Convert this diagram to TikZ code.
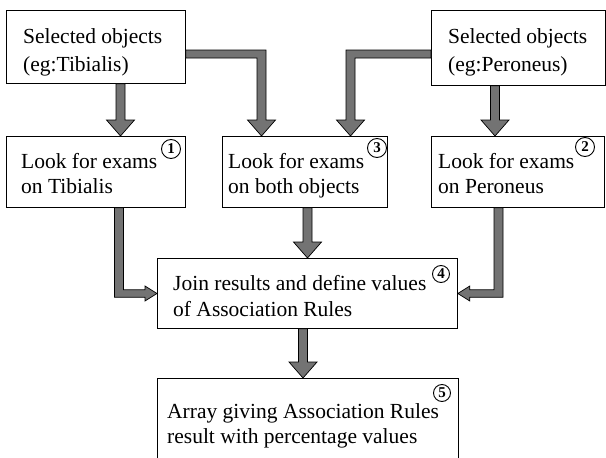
\documentclass[tikz,border=0pt]{standalone}
\usepackage{fontspec}
\setmainfont{Liberation Serif}
\usetikzlibrary{calc}
\tikzset{
  box/.style={draw, line width=0.8pt, inner sep=0pt, anchor=north west},
  txt/.style={inner sep=0pt, anchor=base west, font=\fontsize{21.5}{26}\selectfont},
  num/.style={draw, circle, line width=0.9pt, inner sep=0pt, minimum size=19pt, font=\fontsize{15}{15}\selectfont\bfseries},
  fat/.style={draw=black, line width=0.7pt, fill=black!55, line join=miter}
}
\newcommand\twoline[3]{\vtop{\baselineskip=#1pt\hbox{#2}\hbox{#3}}}
% vertical fat arrow
\newcommand\vfat[2]{\path[fat] let \p1=#1, \p2=#2 in
  (\x1-4.5pt,\y1) -- (\x1-4.5pt,\y2+16pt) -- (\x1-14pt,\y2+16pt) -- (\x1,\y2) --
  (\x1+14pt,\y2+16pt) -- (\x1+4.5pt,\y2+16pt) -- (\x1+4.5pt,\y1) -- cycle;}
% right then down
\newcommand\rdfat[2]{\path[fat] let \p1=#1, \p2=#2 in
  (\x1,\y1+4pt) -- (\x2+4.5pt,\y1+4pt) -- (\x2+4.5pt,\y2+16pt) -- (\x2+14pt,\y2+16pt) --
  (\x2,\y2) -- (\x2-14pt,\y2+16pt) -- (\x2-4.5pt,\y2+16pt) -- (\x2-4.5pt,\y1-4pt) --
  (\x1,\y1-4pt) -- cycle;}
% left then down
\newcommand\ldfat[2]{\path[fat] let \p1=#1, \p2=#2 in
  (\x1,\y1+4pt) -- (\x2-4.5pt,\y1+4pt) -- (\x2-4.5pt,\y2+16pt) -- (\x2-14pt,\y2+16pt) --
  (\x2,\y2) -- (\x2+14pt,\y2+16pt) -- (\x2+4.5pt,\y2+16pt) -- (\x2+4.5pt,\y1-4pt) --
  (\x1,\y1-4pt) -- cycle;}
% down then right
\newcommand\drfat[2]{\path[fat] let \p1=#1, \p2=#2 in
  (\x1-4.5pt,\y1) -- (\x1-4.5pt,\y2-3.75pt) -- (\x2-12pt,\y2-3.75pt) -- (\x2-12pt,\y2-7.5pt) --
  (\x2,\y2) -- (\x2-12pt,\y2+7.5pt) -- (\x2-12pt,\y2+3.75pt) -- (\x1+4.5pt,\y2+3.75pt) --
  (\x1+4.5pt,\y1) -- cycle;}
% down then left
\newcommand\dlfat[2]{\path[fat] let \p1=#1, \p2=#2 in
  (\x1+4.5pt,\y1) -- (\x1+4.5pt,\y2-3.75pt) -- (\x2+12pt,\y2-3.75pt) -- (\x2+12pt,\y2-7.5pt) --
  (\x2,\y2) -- (\x2+12pt,\y2+7.5pt) -- (\x2+12pt,\y2+3.75pt) -- (\x1-4.5pt,\y2+3.75pt) --
  (\x1-4.5pt,\y1) -- cycle;}
\begin{document}
\begin{tikzpicture}[x=1pt,y=-1pt]
\useasboundingbox (0,0) rectangle (606,458);
% boxes
\node[box, minimum width=179pt, minimum height=73pt] (A) at (6,10) {};
\node[box, minimum width=174pt, minimum height=75pt] (B) at (431,10) {};
\node[box, minimum width=179pt, minimum height=71pt] (B1) at (6,136) {};
\node[box, minimum width=165pt, minimum height=71pt] (B3) at (222,136) {};
\node[box, minimum width=173pt, minimum height=71pt] (B2) at (431,136) {};
\node[box, minimum width=300pt, minimum height=70pt] (B4) at (157,258) {};
\node[box, minimum width=301pt, minimum height=90pt] (B5) at (157,378) {};
% texts
\node[txt] (tA) at (23,43) {\twoline{28}{Selected objects}{(eg:Tibialis)}};
\node[txt] (tB) at (448,43) {\twoline{28}{Selected objects}{(eg:Peroneus)}};
\node[txt] (t1) at (21,168) {\twoline{25}{Look for exams}{on Tibialis}};
\node[txt] (t3) at (228,168) {\twoline{25}{Look for exams}{on both objects}};
\node[txt] (t2) at (438,168) {\twoline{25}{Look for exams}{on Peroneus}};
\node[txt] (t4) at (173,290) {\twoline{26}{Join results and define values}{of Association Rules}};
\node[txt] (t5) at (167,418) {\twoline{25}{Array giving Association Rules}{result with percentage values}};
% circled numbers
\node[num] (n1) at (171,149) {1};
\node[num] (n3) at (377,148) {3};
\node[num] (n2) at (585,147) {2};
\node[num, minimum size=17pt] (n4) at (441,274) {4};
\node[num, minimum size=17pt] (n5) at (442,393) {5};
% arrow guide coordinates
\coordinate (xa) at (120.5,0);
\coordinate (xb) at (261.5,0);
\coordinate (xc) at (350.5,0);
\coordinate (xd) at (495,0);
\coordinate (xe) at (119,0);
\coordinate (xf) at (307.5,0);
\coordinate (xg) at (498.5,0);
\coordinate (xh) at (303,0);
\coordinate (ya) at (0,54);
\coordinate (yd) at (0,293.5);
% arrows
\vfat{(A.south -| xa)}{(B1.north -| xa)}
\rdfat{(A.east |- ya)}{(B3.north -| xb)}
\ldfat{(B.west |- ya)}{(B3.north -| xc)}
\vfat{(B.south -| xd)}{(B2.north -| xd)}
\drfat{(B1.south -| xe)}{(B4.west |- yd)}
\vfat{(B3.south -| xf)}{(B4.north -| xf)}
\dlfat{(B2.south -| xg)}{(B4.east |- yd)}
\vfat{(B4.south -| xh)}{(B5.north -| xh)}
\end{tikzpicture}
\end{document}
